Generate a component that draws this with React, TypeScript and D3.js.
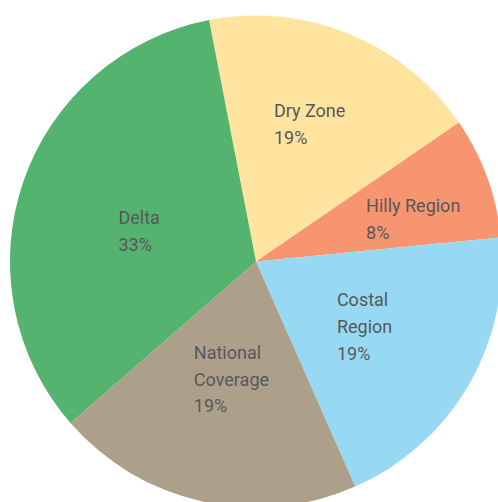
import React, { useEffect, useRef } from "react";
import * as d3 from "d3";

// Data
const categories = ["Dry Zone", "Hilly Region", "Costal Region", "National Coverage", "Delta"];
const values = [18.5, 8.0, 19.95, 20.2, 33.35];
const percentLabels = ["19%", "8%", "19%", "19%", "33%"];
const labelLines = [["Dry Zone"], ["Hilly Region"], ["Costal", "Region"], ["National", "Coverage"], ["Delta"]];

// Styles / layout
const colors = ["#FFE49F", "#F69570", "#97D9F3", "#ADA08B", "#54B36F"];
const labelRadiusFactor = [0.599, 0.662, 0.515, 0.489, 0.491];
const labelAngleOffsetDeg = [-0.95, 4.85, 0.7, -0.8, -4.3];

const W = 498;
const H = 502;
const CX = 256;
const CY = 261.5;
const R = 246;
const START_DEG = -11;
const FONT_SIZE = 18;
const LINE_H = 26.7;

export default function App() {
  const ref = useRef<SVGSVGElement | null>(null);

  useEffect(() => {
    const svg = d3.select(ref.current);
    svg.selectAll("*").remove();
    const g = svg.append("g").attr("transform", `translate(${CX},${CY})`);

    const start = (START_DEG * Math.PI) / 180;
    const pie = d3
      .pie<number>()
      .sort(null)
      .value((d) => d)
      .startAngle(start)
      .endAngle(start + 2 * Math.PI);
    const arcs = pie(values);
    const arc = d3.arc<d3.PieArcDatum<number>>().innerRadius(0).outerRadius(R);

    g.selectAll("path.slice")
      .data(arcs)
      .enter()
      .append("path")
      .attr("class", "slice")
      .attr("d", arc)
      .attr("fill", (_d, i) => colors[i]);

    const capH = FONT_SIZE * 0.711;
    arcs.forEach((a, i) => {
      const lines = [...labelLines[i], percentLabels[i]];
      const mid = (a.startAngle + a.endAngle) / 2 + (labelAngleOffsetDeg[i] * Math.PI) / 180;
      const [px, py] = d3.pointRadial(mid, R * labelRadiusFactor[i]);
      const t = g
        .append("text")
        .attr("font-family", "Roboto, sans-serif")
        .attr("font-size", FONT_SIZE)
        .attr("fill", "#585858");
      const firstBaseline = py - ((lines.length - 1) * LINE_H) / 2 + capH / 2;
      lines.forEach((ln, j) => {
        t.append("tspan").attr("x", 0).attr("y", firstBaseline + j * LINE_H).text(ln);
      });
      let maxW = 0;
      t.selectAll<SVGTSpanElement, unknown>("tspan").each(function () {
        maxW = Math.max(maxW, this.getComputedTextLength());
      });
      const left = px - maxW / 2;
      t.selectAll("tspan").attr("x", left);
    });
  }, []);

  return (
    <svg
      ref={ref}
      width={W}
      height={H}
      style={{ position: "fixed", left: 0, top: 0, background: "#fff" }}
    />
  );
}
